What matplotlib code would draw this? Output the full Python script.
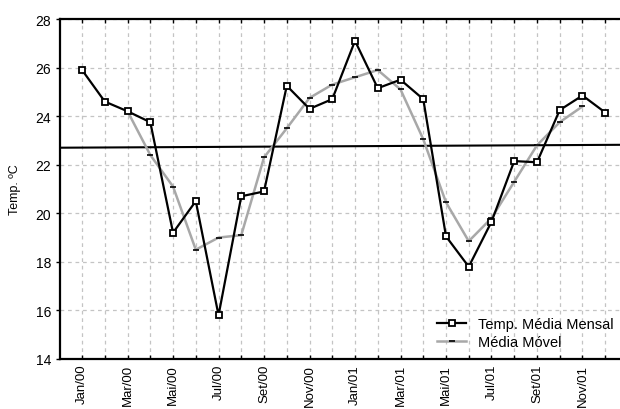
import matplotlib
matplotlib.use("Agg")
import matplotlib.pyplot as plt
import numpy as np

months = ["Jan/00", "Fev/00", "Mar/00", "Abr/00", "Mai/00", "Jun/00", "Jul/00", "Ago/00",
          "Set/00", "Out/00", "Nov/00", "Dez/00", "Jan/01", "Fev/01", "Mar/01", "Abr/01",
          "Mai/01", "Jun/01", "Jul/01", "Ago/01", "Set/01", "Out/01", "Nov/01", "Dez/01"]
temp_mensal = [25.9, 24.6, 24.2, 23.75, 19.2, 20.5, 15.8, 20.7, 20.9, 25.25, 24.3, 24.7,
               27.1, 25.15, 25.5, 24.7, 19.05, 17.8, 19.65, 22.15, 22.1, 24.25, 24.85, 24.15]
media_movel = [np.nan, np.nan, 24.2, 22.4, 21.1, 18.5, 19.0, 19.1, 22.3, 23.5, 24.75, 25.3,
               25.6, 25.9, 25.1, 23.05, 20.45, 18.85, 19.8, 21.3, 22.8, 23.75, 24.4, np.nan]
trend_x = [-1.0, 23.7]
trend_y = [22.7, 22.82]

plt.rcParams['font.family'] = ['Liberation Sans', 'DejaVu Sans']

fig = plt.figure(figsize=(6.2, 4.1), dpi=100)
ax = fig.add_axes([60/620, 1-360/410, 1-60/620, 340/410])

x = np.arange(len(months))
ax.plot(trend_x, trend_y, color='black', lw=1.5, zorder=2)
ax.plot(x, media_movel, color='#a8a8a8', lw=1.8, marker='_', markersize=4,
        markeredgecolor='black', markeredgewidth=1.2, label='Média Móvel', zorder=3)
ax.plot(x, temp_mensal, color='black', lw=1.6, marker='s', markersize=4,
        markerfacecolor='white', markeredgecolor='black', markeredgewidth=1.3,
        label='Temp. Média Mensal', zorder=4)

ax.set_xlim(-0.97, 23.65)
ax.set_ylim(14, 28)
ax.set_yticks(np.arange(14, 29, 2))
ax.set_xticks(x[::2])
ax.set_xticklabels(months[::2], rotation=90, fontsize=9.5)
ax.set_xticks(x, minor=True)
ax.tick_params(axis='y', labelsize=10, direction='out', length=3, width=1)
ax.tick_params(axis='x', which='both', direction='in', length=3, width=1, top=True)
ax.grid(True, which='both', axis='x', color='#c4c4c4', linestyle=(0, (3, 3)), lw=0.9)
ax.grid(True, which='major', axis='y', color='#c4c4c4', linestyle=(0, (3, 3)), lw=0.9)
ax.set_axisbelow(True)
for s in ['left', 'bottom', 'top']:
    ax.spines[s].set_linewidth(1.6)
ax.spines['right'].set_visible(False)
ax.set_ylabel('Temp. ºC', fontsize=9, labelpad=10)

h, l = ax.get_legend_handles_labels()
ax.legend(h[::-1], l[::-1], loc='lower right', bbox_to_anchor=(1.012, -0.01), frameon=False,
          fontsize=10.5, handlelength=2.0, handletextpad=0.8, labelspacing=0.3)

fig.savefig('out.png', dpi=100)
